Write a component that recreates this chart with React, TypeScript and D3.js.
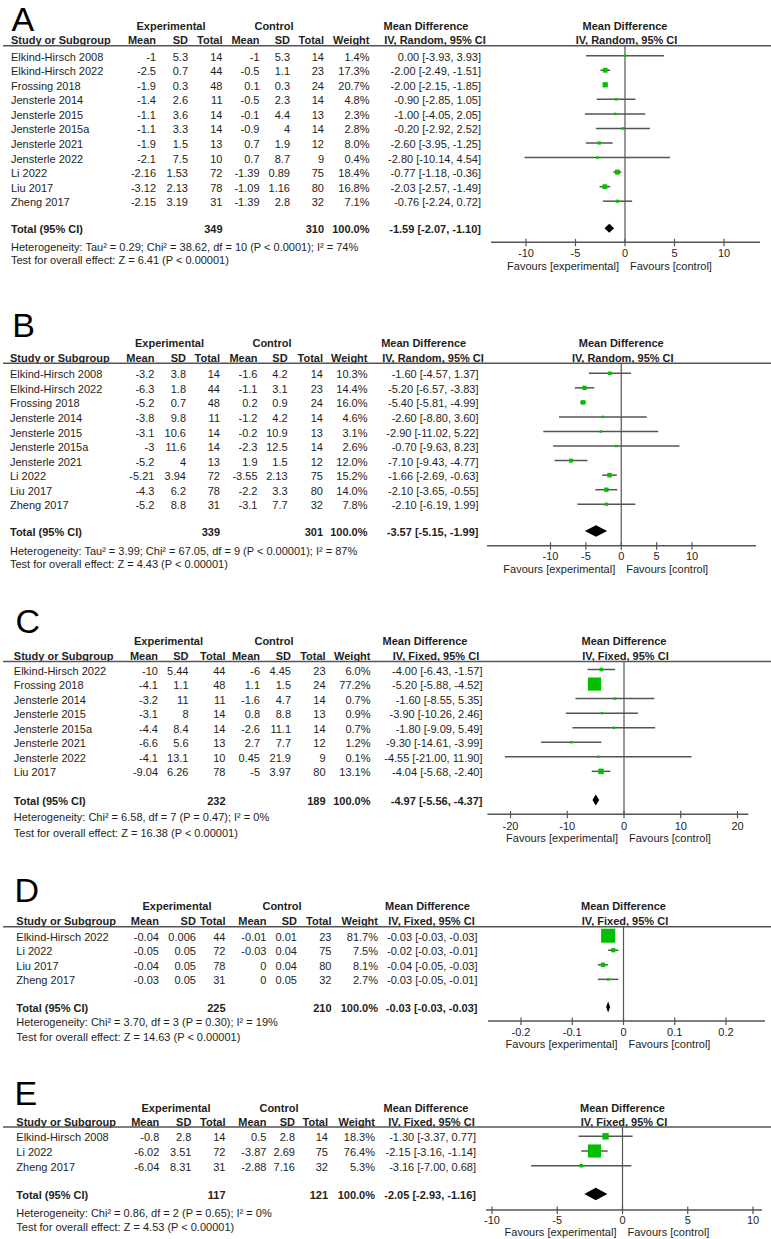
import React from "react";
import * as d3 from "d3";

// ---------- DATA ----------
// [study, expMean, expSD, expN, ctlMean, ctlSD, ctlN, weight%, MD, lo, hi]
const rowsA: [string, number, number, number, number, number, number, number, number, number, number][] = [
  ["Elkind-Hirsch 2008", -1, 5.3, 14, -1, 5.3, 14, 1.4, 0.0, -3.93, 3.93],
  ["Elkind-Hirsch 2022", -2.5, 0.7, 44, -0.5, 1.1, 23, 17.3, -2.0, -2.49, -1.51],
  ["Frossing 2018", -1.9, 0.3, 48, 0.1, 0.3, 24, 20.7, -2.0, -2.15, -1.85],
  ["Jensterle 2014", -1.4, 2.6, 11, -0.5, 2.3, 14, 4.8, -0.9, -2.85, 1.05],
  ["Jensterle 2015", -1.1, 3.6, 14, -0.1, 4.4, 13, 2.3, -1.0, -4.05, 2.05],
  ["Jensterle 2015a", -1.1, 3.3, 14, -0.9, 4, 14, 2.8, -0.2, -2.92, 2.52],
  ["Jensterle 2021", -1.9, 1.5, 13, 0.7, 1.9, 12, 8.0, -2.6, -3.95, -1.25],
  ["Jensterle 2022", -2.1, 7.5, 10, 0.7, 8.7, 9, 0.4, -2.8, -10.14, 4.54],
  ["Li 2022", -2.16, 1.53, 72, -1.39, 0.89, 75, 18.4, -0.77, -1.18, -0.36],
  ["Liu 2017", -3.12, 2.13, 78, -1.09, 1.16, 80, 16.8, -2.03, -2.57, -1.49],
  ["Zheng 2017", -2.15, 3.19, 31, -1.39, 2.8, 32, 7.1, -0.76, -2.24, 0.72],
];
const rowsB: [string, number, number, number, number, number, number, number, number, number, number][] = [
  ["Elkind-Hirsch 2008", -3.2, 3.8, 14, -1.6, 4.2, 14, 10.3, -1.6, -4.57, 1.37],
  ["Elkind-Hirsch 2022", -6.3, 1.8, 44, -1.1, 3.1, 23, 14.4, -5.2, -6.57, -3.83],
  ["Frossing 2018", -5.2, 0.7, 48, 0.2, 0.9, 24, 16.0, -5.4, -5.81, -4.99],
  ["Jensterle 2014", -3.8, 9.8, 11, -1.2, 4.2, 14, 4.6, -2.6, -8.8, 3.6],
  ["Jensterle 2015", -3.1, 10.6, 14, -0.2, 10.9, 13, 3.1, -2.9, -11.02, 5.22],
  ["Jensterle 2015a", -3, 11.6, 14, -2.3, 12.5, 14, 2.6, -0.7, -9.63, 8.23],
  ["Jensterle 2021", -5.2, 4, 13, 1.9, 1.5, 12, 12.0, -7.1, -9.43, -4.77],
  ["Li 2022", -5.21, 3.94, 72, -3.55, 2.13, 75, 15.2, -1.66, -2.69, -0.63],
  ["Liu 2017", -4.3, 6.2, 78, -2.2, 3.3, 80, 14.0, -2.1, -3.65, -0.55],
  ["Zheng 2017", -5.2, 8.8, 31, -3.1, 7.7, 32, 7.8, -2.1, -6.19, 1.99],
];
const rowsC: [string, number, number, number, number, number, number, number, number, number, number][] = [
  ["Elkind-Hirsch 2022", -10, 5.44, 44, -6, 4.45, 23, 6.0, -4.0, -6.43, -1.57],
  ["Frossing 2018", -4.1, 1.1, 48, 1.1, 1.5, 24, 77.2, -5.2, -5.88, -4.52],
  ["Jensterle 2014", -3.2, 11, 11, -1.6, 4.7, 14, 0.7, -1.6, -8.55, 5.35],
  ["Jensterle 2015", -3.1, 8, 14, 0.8, 8.8, 13, 0.9, -3.9, -10.26, 2.46],
  ["Jensterle 2015a", -4.4, 8.4, 14, -2.6, 11.1, 14, 0.7, -1.8, -9.09, 5.49],
  ["Jensterle 2021", -6.6, 5.6, 13, 2.7, 7.7, 12, 1.2, -9.3, -14.61, -3.99],
  ["Jensterle 2022", -4.1, 13.1, 10, 0.45, 21.9, 9, 0.1, -4.55, -21.0, 11.9],
  ["Liu 2017", -9.04, 6.26, 78, -5, 3.97, 80, 13.1, -4.04, -5.68, -2.4],
];
const rowsD: [string, number, number, number, number, number, number, number, number, number, number][] = [
  ["Elkind-Hirsch 2022", -0.04, 0.006, 44, -0.01, 0.01, 23, 81.7, -0.03, -0.03, -0.03],
  ["Li 2022", -0.05, 0.05, 72, -0.03, 0.04, 75, 7.5, -0.02, -0.03, -0.01],
  ["Liu 2017", -0.04, 0.05, 78, 0, 0.04, 80, 8.1, -0.04, -0.05, -0.03],
  ["Zheng 2017", -0.03, 0.05, 31, 0, 0.05, 32, 2.7, -0.03, -0.05, -0.01],
];
const rowsE: [string, number, number, number, number, number, number, number, number, number, number][] = [
  ["Elkind-Hirsch 2008", -0.8, 2.8, 14, 0.5, 2.8, 14, 18.3, -1.3, -3.37, 0.77],
  ["Li 2022", -6.02, 3.51, 72, -3.87, 2.69, 75, 76.4, -2.15, -3.16, -1.14],
  ["Zheng 2017", -6.04, 8.31, 31, -2.88, 7.16, 32, 5.3, -3.16, -7.0, 0.68],
];

// totals: [expN, ctlN, MD, lo, hi]
const totalA = [349, 310, -1.59, -2.07, -1.1];
const totalB = [339, 301, -3.57, -5.15, -1.99];
const totalC = [232, 189, -4.97, -5.56, -4.37];
const totalD = [225, 210, -0.03, -0.03, -0.03];
const totalE = [117, 121, -2.05, -2.93, -1.16];

const hetA = ["Heterogeneity: Tau² = 0.29; Chi² = 38.62, df = 10 (P < 0.0001); I² = 74%", "Test for overall effect: Z = 6.41 (P < 0.00001)"];
const hetB = ["Heterogeneity: Tau² = 3.99; Chi² = 67.05, df = 9 (P < 0.00001); I² = 87%", "Test for overall effect: Z = 4.43 (P < 0.00001)"];
const hetC = ["Heterogeneity: Chi² = 6.58, df = 7 (P = 0.47); I² = 0%", "Test for overall effect: Z = 16.38 (P < 0.00001)"];
const hetD = ["Heterogeneity: Chi² = 3.70, df = 3 (P = 0.30); I² = 19%", "Test for overall effect: Z = 14.63 (P < 0.00001)"];
const hetE = ["Heterogeneity: Chi² = 0.86, df = 2 (P = 0.65); I² = 0%", "Test for overall effect: Z = 4.53 (P < 0.00001)"];

const ticksA = [-10, -5, 0, 5, 10];
const ticksB = [-10, -5, 0, 5, 10];
const ticksC = [-20, -10, 0, 10, 20];
const ticksD = [-0.2, -0.1, 0, 0.1, 0.2];
const ticksE = [-10, -5, 0, 5, 10];

const methodRandom = "IV, Random, 95% CI";
const methodFixed = "IV, Fixed, 95% CI";

// ---------- LAYOUT ----------
type Layout = {
  letter: string; letterX: number; letterY: number;
  h1: number; h2: number; lineY: number; row1: number; step: number;
  totalY: number; hetY: number; testY: number; axisY: number; tickY: number; favY: number;
  cols: number[]; // name, m, sd, n, cm, csd, cn, w, ci
  expC: number; ctlC: number; mdC: number; ivC: number;
  domain: [number, number]; range: [number, number]; axisX: [number, number];
  boxK: number; diamondH: number; method: string;
};

const layouts: Layout[] = [
  { letter: "A", letterX: 11.5, letterY: 30.5, h1: 25.7, h2: 40, lineY: 45.7, row1: 56.7, step: 14.55,
    totalY: 229.3, hetY: 246.7, testY: 260, axisY: 242.3, tickY: 253, favY: 266,
    cols: [11, 156, 188, 222.5, 259.5, 290, 324, 369.5, 481], expC: 171, ctlC: 274, mdC: 426, ivC: 435,
    domain: [-10, 10], range: [526, 724], axisX: [491, 760], boxK: 1.15, diamondH: 9, method: methodRandom },
  { letter: "B", letterX: 12.2, letterY: 336.7, h1: 342.7, h2: 357.7, lineY: 363.3, row1: 374.3, step: 14.55,
    totalY: 532, hetY: 551, testY: 564.3, axisY: 545.7, tickY: 556, favY: 569,
    cols: [10, 154.4, 186, 220, 257.5, 287.6, 323, 367.5, 478.5], expC: 169.5, ctlC: 272, mdC: 423.7, ivC: 433,
    domain: [-10, 10], range: [550.5, 692], axisX: [487, 756], boxK: 1.15, diamondH: 11.5, method: methodRandom },
  { letter: "C", letterX: 15.5, letterY: 633.3, h1: 641, h2: 656, lineY: 661.5, row1: 670.5, step: 14.55,
    totalY: 801, hetY: 817.3, testY: 832.7, axisY: 814.3, tickY: 826, favY: 838.3,
    cols: [13.8, 158, 188.5, 225.5, 260, 291, 325.6, 370.5, 482.5], expC: 168.5, ctlC: 274, mdC: 425, ivC: 436,
    domain: [-20, 20], range: [510.5, 737.5], axisX: [487.4, 748.4], boxK: 1.5, diamondH: 11, method: methodFixed },
  { letter: "D", letterX: 14.4, letterY: 901.7, h1: 906, h2: 920.7, lineY: 926.7, row1: 936.7, step: 14.55,
    totalY: 1008, hetY: 1022.3, testY: 1036.7, axisY: 1021, tickY: 1031.7, favY: 1044.3,
    cols: [16.3, 158.9, 195.9, 225.5, 266.4, 297, 331.5, 378, 477.5], expC: 177, ctlC: 282, mdC: 427.5, ivC: 431.5,
    domain: [-0.2, 0.2], range: [521, 726], axisX: [488, 765], boxK: 1.55, diamondH: 11, method: methodFixed },
  { letter: "E", letterX: 14.4, letterY: 1105, h1: 1108.3, h2: 1122.3, lineY: 1127, row1: 1137.3, step: 14.7,
    totalY: 1195, hetY: 1212.7, testY: 1226.7, axisY: 1210, tickY: 1220, favY: 1231.7,
    cols: [16.3, 159.3, 191.4, 225.5, 266.4, 295, 328, 375, 476], expC: 176, ctlC: 279, mdC: 426, ivC: 431.5,
    domain: [-10, 10], range: [492, 753], axisX: [486, 762], boxK: 1.5, diamondH: 12.5, method: methodFixed },
];

const panelRows = [rowsA, rowsB, rowsC, rowsD, rowsE];
const panelTotals = [totalA, totalB, totalC, totalD, totalE];
const panelHet = [hetA, hetB, hetC, hetD, hetE];
const panelTicks = [ticksA, ticksB, ticksC, ticksD, ticksE];

const FONT = "'Liberation Sans', Arial, Helvetica, sans-serif";
const TXT = "#1e1e1e";
const GRAY = "#555";
const GREEN = "#00c000";
const FS = 11;

function T(props: { x: number; cy: number; anchor?: "start" | "middle" | "end"; bold?: boolean; children: React.ReactNode }) {
  return (
    <text x={props.x} y={props.cy + 4} textAnchor={props.anchor || "start"} fontWeight={props.bold ? "bold" : "normal"}
      fontFamily={FONT} fontSize={FS} fill={TXT}>{props.children}</text>
  );
}

const f2 = (v: number) => v.toFixed(2);
const ciText = (md: number, lo: number, hi: number) => `${f2(md)} [${f2(lo)}, ${f2(hi)}]`;

function Panel({ L, rows, total, het, ticks }: { L: Layout; rows: typeof rowsA; total: number[]; het: string[]; ticks: number[] }) {
  const x = d3.scaleLinear().domain(L.domain).range(L.range);
  const box = d3.scaleSqrt().domain([0, 100]).range([0, L.boxK * 10]);
  const c = L.cols;
  const rowY = (i: number) => L.row1 + i * L.step;
  const x0 = x(0);
  const [tn1, tn2, tmd, tlo, thi] = total;
  let dlo = x(tlo), dhi = x(thi);
  if (dhi - dlo < 4) { const m = x(tmd); dlo = m - 2; dhi = m + 2; }
  const dy = L.totalY;
  const hh = L.diamondH / 2;
  return (
    <g>
      <text x={L.letterX} y={L.letterY} fontFamily={FONT} fontSize={34} fill="#000">{L.letter}</text>
      {/* header row 1 */}
      <T x={L.expC} cy={L.h1} anchor="middle" bold>Experimental</T>
      <T x={L.ctlC} cy={L.h1} anchor="middle" bold>Control</T>
      <T x={L.mdC} cy={L.h1} anchor="middle" bold>Mean Difference</T>
      <T x={x0} cy={L.h1} anchor="middle" bold>Mean Difference</T>
      {/* header row 2 */}
      <T x={c[0]} cy={L.h2} bold>Study or Subgroup</T>
      <T x={c[1]} cy={L.h2} anchor="end" bold>Mean</T>
      <T x={c[2]} cy={L.h2} anchor="end" bold>SD</T>
      <T x={c[3]} cy={L.h2} anchor="end" bold>Total</T>
      <T x={c[4]} cy={L.h2} anchor="end" bold>Mean</T>
      <T x={c[5]} cy={L.h2} anchor="end" bold>SD</T>
      <T x={c[6]} cy={L.h2} anchor="end" bold>Total</T>
      <T x={c[7]} cy={L.h2} anchor="end" bold>Weight</T>
      <T x={L.ivC} cy={L.h2} anchor="middle" bold>{L.method}</T>
      <T x={x0 + 1.5} cy={L.h2} anchor="middle" bold>{L.method}</T>
      <line x1={3} x2={771} y1={L.lineY} y2={L.lineY} stroke={GRAY} strokeWidth={1.6} />
      {/* zero line */}
      <line x1={x0} x2={x0} y1={L.lineY} y2={L.axisY} stroke={GRAY} strokeWidth={1.2} />
      {/* study rows */}
      {rows.map((r, i) => {
        const y = rowY(i);
        const s = Math.max(2.5, box(r[7]));
        return (
          <g key={i}>
            <T x={c[0]} cy={y}>{r[0]}</T>
            <T x={c[1]} cy={y} anchor="end">{String(r[1])}</T>
            <T x={c[2]} cy={y} anchor="end">{String(r[2])}</T>
            <T x={c[3]} cy={y} anchor="end">{String(r[3])}</T>
            <T x={c[4]} cy={y} anchor="end">{String(r[4])}</T>
            <T x={c[5]} cy={y} anchor="end">{String(r[5])}</T>
            <T x={c[6]} cy={y} anchor="end">{String(r[6])}</T>
            <T x={c[7]} cy={y} anchor="end">{r[7].toFixed(1) + "%"}</T>
            <T x={c[8]} cy={y} anchor="end">{ciText(r[8], r[9], r[10])}</T>
            <line x1={x(r[9])} x2={x(r[10])} y1={y - 1} y2={y - 1} stroke={GRAY} strokeWidth={1.5} />
            <rect x={x(r[8]) - s / 2} y={y - 1 - s / 2} width={s} height={s} fill={GREEN} />
          </g>
        );
      })}
      {/* total */}
      <T x={c[0]} cy={dy} bold>Total (95% CI)</T>
      <T x={c[3]} cy={dy} anchor="end" bold>{String(tn1)}</T>
      <T x={c[6]} cy={dy} anchor="end" bold>{String(tn2)}</T>
      <T x={c[7]} cy={dy} anchor="end" bold>100.0%</T>
      <T x={c[8]} cy={dy} anchor="end" bold>{ciText(tmd, tlo, thi)}</T>
      <polygon points={`${dlo},${dy - 1} ${x(tmd)},${dy - 1 - hh} ${dhi},${dy - 1} ${x(tmd)},${dy - 1 + hh}`} fill="#000" />
      <T x={c[0]} cy={L.hetY}>{het[0]}</T>
      <T x={c[0]} cy={L.testY}>{het[1]}</T>
      {/* axis */}
      <line x1={L.axisX[0]} x2={L.axisX[1]} y1={L.axisY} y2={L.axisY} stroke={GRAY} strokeWidth={1.5} />
      {ticks.map((t, i) => (
        <g key={i}>
          <line x1={x(t)} x2={x(t)} y1={L.axisY - 3.5} y2={L.axisY + 4} stroke={GRAY} strokeWidth={1.2} />
          <T x={x(t)} cy={L.tickY} anchor="middle">{String(t)}</T>
        </g>
      ))}
      <T x={x0 - 6} cy={L.favY} anchor="end">Favours [experimental]</T>
      <T x={x0 + 5} cy={L.favY}>Favours [control]</T>
    </g>
  );
}

export default function App() {
  return (
    <svg width={771} height={1239} viewBox="0 0 771 1239" style={{ position: "absolute", left: 0, top: 0, background: "#fff" }}>
      <rect x={0} y={0} width={771} height={1239} fill="#fff" />
      {layouts.map((L, i) => (
        <Panel key={i} L={L} rows={panelRows[i]} total={panelTotals[i]} het={panelHet[i]} ticks={panelTicks[i]} />
      ))}
    </svg>
  );
}
